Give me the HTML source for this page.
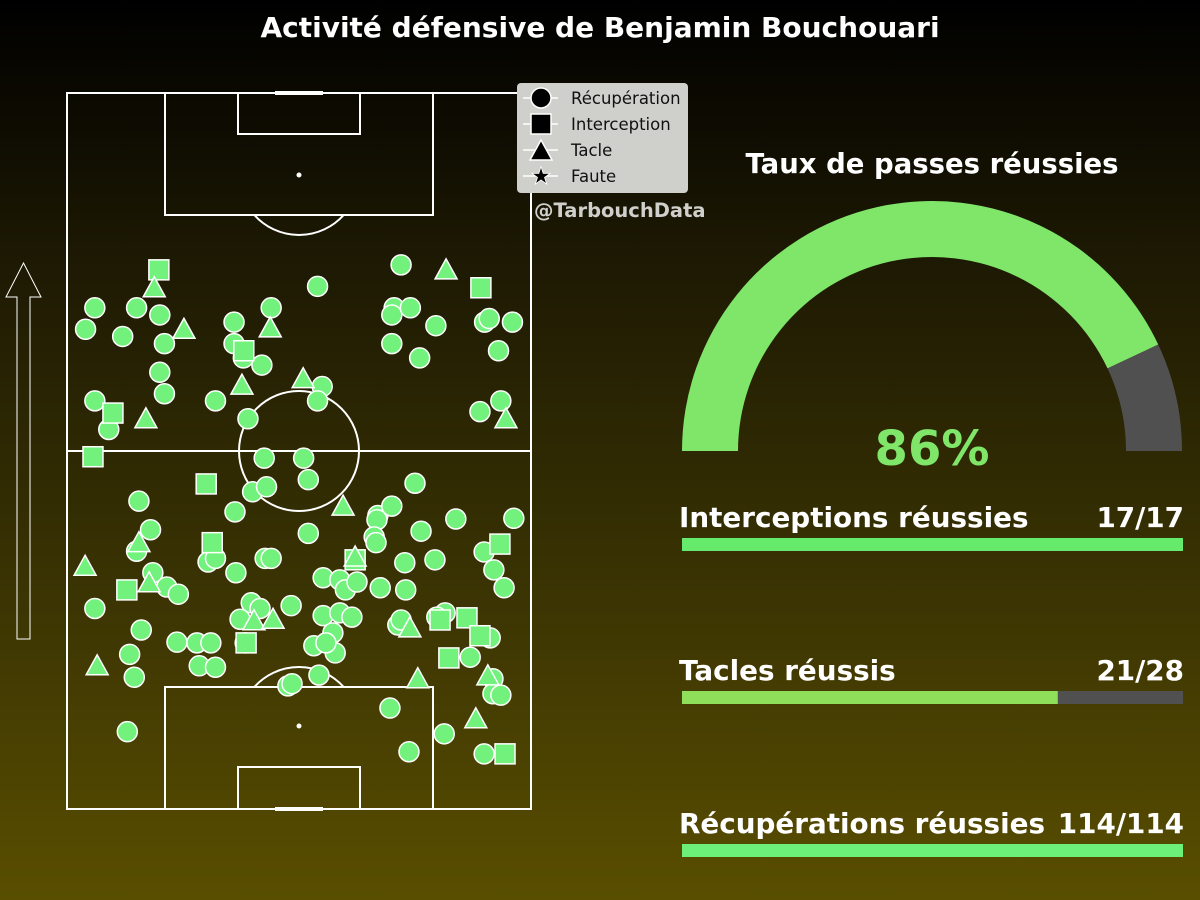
<!DOCTYPE html>
<html><head><meta charset="utf-8">
<style>
html,body{margin:0;padding:0;}
body{width:1200px;height:900px;overflow:hidden;background:linear-gradient(#000 0%,#1e1a03 30%,#3a3303 65%,#594e00 100%);font-family:"DejaVu Sans","Liberation Sans",sans-serif;}
svg{display:block}
</style></head>
<body>
<svg id="chart" width="1200" height="900">
  <text x="600" y="37" text-anchor="middle" fill="#fff" font-size="28" font-weight="bold">Activité défensive de Benjamin Bouchouari</text>
  <g fill="none" stroke="#fff" stroke-width="2">
    <rect x="67" y="93" width="464" height="716"/>
    <line x1="67" y1="451" x2="531" y2="451"/>
    <circle cx="299" cy="451" r="60"/>
    <rect x="165" y="93" width="268" height="122"/>
    <rect x="238" y="93" width="122" height="41"/>
    <line x1="275" y1="93" x2="323" y2="93" stroke-width="4"/>
    <path d="M254.3 215 A60 60 0 0 0 343.7 215"/>
    <rect x="165" y="687" width="268" height="122"/>
    <rect x="238" y="767" width="122" height="42"/>
    <line x1="275" y1="809" x2="323" y2="809" stroke-width="4"/>
    <path d="M254.3 687 A60 60 0 0 1 343.7 687"/>
    <circle cx="299" cy="175" r="1.5" fill="#fff"/>
    <circle cx="299" cy="726" r="1.5" fill="#fff"/>
  </g>
  <path d="M17 639 L17 297 L6 297 L23.5 263 L41 297 L30 297 L30 639 Z" fill="none" stroke="#fff" stroke-width="1"/>
  <g id="marks"></g>
  <g>
    <rect x="517" y="83" width="171" height="110" rx="4" fill="#cfcfcc"/>
    <g stroke="#fff" stroke-width="1.5">
      <line x1="523" y1="98" x2="558" y2="98"/><line x1="523" y1="124" x2="558" y2="124"/>
      <line x1="523" y1="150" x2="558" y2="150"/><line x1="523" y1="176" x2="558" y2="176"/>
    </g>
    <g><circle cx="541" cy="98" r="10" fill="#000" stroke="#fff" stroke-width="1.5"/><text x="571" y="104" font-size="16.5" fill="#111">Récupération</text></g>
    <g><rect x="531" y="114" width="20" height="20" fill="#000" stroke="#fff" stroke-width="1.5"/><text x="571" y="130" font-size="16.5" fill="#111">Interception</text></g>
    <g><path d="M541 140 L552 160 L530 160 Z" fill="#000" stroke="#fff" stroke-width="1.5"/><text x="571" y="156" font-size="16.5" fill="#111">Tacle</text></g>
    <g><text x="541" y="184" font-size="24" text-anchor="middle" fill="#000" stroke="#fff" stroke-width="0.8">★</text><text x="571" y="182" font-size="16.5" fill="#111">Faute</text></g>
  </g>
  <text x="534" y="217" font-size="19.5" font-weight="bold" fill="#cfcfcc">@TarbouchData</text>
  <text x="932" y="173" text-anchor="middle" font-size="27.5" font-weight="bold" fill="#fff">Taux de passes réussies</text>
  <g id="gauge"></g>
  <g id="bars"></g>
</svg>
<script>
// pitch coordinates: x 0-100 across width (left to right), y 0-100 along length (bottom to top)
const recupX=[6,4,12,15,20,21,20,21,6,9,32,36,36,38,42,44,39,54,55,54,72,70.5,70,74,79.5,70,76,90,91,96,93,93.5,89,42.5,51,52,
15.5,18,15,18.5,21.5,24,6,16,13.5,14.5,13,23.7,28,31,28.5,32,30.4,32,36.4,36.2,40,43,42.7,44,39.7,41.6,48.3,37.3,38.4,52,55.2,58.8,60,62.5,55.2,58.8,61.4,57.3,57.8,53.2,55.8,54.3,47.6,48.5,67,66.8,70,66.2,66.6,75,76.3,83.8,72.8,79.3,67.5,73,71.3,72,81.5,79.7,86.9,89.9,92,94.2,96.3,91.2,91.8,91.8,93.5,69.6,81.3,73.7,89.9];
const recupY=[70,67,66,70,69,65,61,58,57,53,57,68,65,63,62,70,54.5,73,59,57,76,70,69,70,67.5,65,63,68,68.5,68,64,57,55.5,49,49,46,
43,39,36,33,31,30,28,25,21.6,18.4,10.8,23.3,23.2,23.2,20,19.8,34.5,35,33,41.5,44.3,45,35,35,28.8,28,28.4,26.5,23.2,38.5,32.3,32,30.6,31.7,27,27.4,26.8,24.6,21.8,22.8,23.2,18.7,17.2,17.5,41,40.4,42.3,38,37.2,45.5,38.8,40.5,34.4,34.8,30.9,30.6,25.7,26.4,27.4,26.8,21.2,35.9,33.4,30.9,40.6,23.9,18.2,16.1,15.9,14.1,10.5,8,7.7];
const interX=[19.8,89.2,38.1,9.9,5.6,30,31.3,12.9,62.1,38.6,93.3,80.4,86.2,89,82.3,94.4];
const interY=[75.3,72.8,64,55.3,49.2,45.4,37.2,30.6,34.8,23.2,37,26.4,26.7,24.2,21.1,7.7];
const tacleX=[18.8,25.2,43.8,37.7,50.9,17,81.7,94.6,59.5,15.5,3.9,17.7,62.1,40.3,44.4,73.9,6.5,75.6,90.7,88.1];
const tacleY=[72.8,67,67.2,59.2,60.1,54.5,75.3,54.5,42.3,37.2,33.9,31.6,35.2,26.3,26.5,25.3,20,18.2,18.6,12.6];
const passPct=86;
const statLabels=["Interceptions réussies","Tacles réussis","Récupérations réussies"];
const statSuccess=[17,21,114];
const statTotal=[17,28,114];

const NS="http://www.w3.org/2000/svg";
const px=x=>67+x*4.64, py=y=>809-y*7.16;
const marks=document.getElementById('marks');
const FILL="#72f27c";
function mk(tag,attrs,parent){const e=document.createElementNS(NS,tag);for(const k in attrs)e.setAttribute(k,attrs[k]);parent.appendChild(e);return e;}
recupX.forEach((x,i)=>{
  const e=mk('circle',{cx:px(x),cy:py(recupY[i]),r:10,fill:FILL,stroke:'#fff','stroke-width':1.5},marks);
  
  
});
interX.forEach((x,i)=>{
  const cx=px(x),cy=py(interY[i]);
  const e=mk('rect',{x:cx-10,y:cy-10,width:20,height:20,fill:FILL,stroke:'#fff','stroke-width':1.5},marks);
  
  
});
tacleX.forEach((x,i)=>{
  const cx=px(x),cy=py(tacleY[i]);
  const e=mk('path',{d:`M${cx} ${cy-11} L${cx+11} ${cy+9} L${cx-11} ${cy+9} Z`,fill:FILL,stroke:'#fff','stroke-width':1.5},marks);
  
  
});

// gauge
const g=document.getElementById('gauge');
const gcx=932,gcy=451,R=250,r=194;
function arc(a0,a1){
  const t=a=>a*Math.PI/180;
  const p=(rad,a)=>[gcx+rad*Math.cos(t(a)),gcy-rad*Math.sin(t(a))];
  const [x0,y0]=p(R,a0),[x1,y1]=p(R,a1),[x2,y2]=p(r,a1),[x3,y3]=p(r,a0);
  return `M${x0} ${y0} A${R} ${R} 0 0 1 ${x1} ${y1} L${x2} ${y2} A${r} ${r} 0 0 0 ${x3} ${y3} Z`;
}
const split=180-180*passPct/100;
const ga=mk('path',{d:arc(180,split),fill:'#80e66a'},g);


const gb=mk('path',{d:arc(split,0),fill:'#505050'},g);


const gt=mk('text',{x:gcx,y:465,'text-anchor':'middle','font-size':48,'font-weight':'bold',fill:'#80e66a'},g);
gt.textContent=passPct+'%';



// bars
const bars=document.getElementById('bars');
const bx=682,bw=501,bh=13,tops=[538,691,844];
const colors=["#66ea6c","#8fdf5a","#6cf07a"];
statLabels.forEach((lab,i)=>{
  const t=mk('text',{x:679,y:tops[i]-11,'font-size':27.8,'font-weight':'bold',fill:'#fff'},bars);
  t.textContent=lab;
  
  
  const v=mk('text',{x:1184,y:tops[i]-11,'text-anchor':'end','font-size':27.8,'font-weight':'bold',fill:'#fff'},bars);
  v.textContent=statSuccess[i]+'/'+statTotal[i];
  
  
  const bg=mk('rect',{x:bx,y:tops[i],width:bw,height:bh,fill:'#505050'},bars);
  
  
  const fg=mk('rect',{x:bx,y:tops[i],width:bw*statSuccess[i]/statTotal[i],height:bh,fill:colors[i]},bars);
  
  
});
</script>
</body></html>
